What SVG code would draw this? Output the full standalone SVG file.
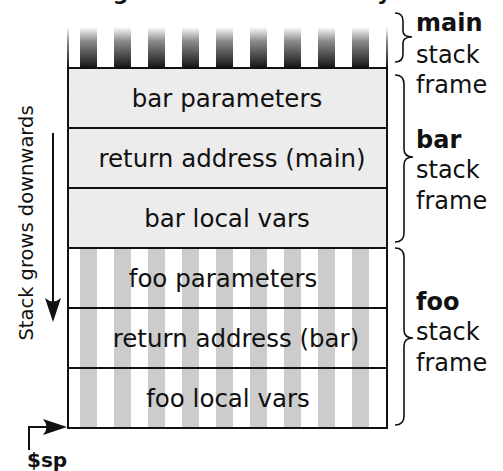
<svg xmlns="http://www.w3.org/2000/svg" width="503" height="471" viewBox="0 0 503 471">
<style>
.cell{font-family:"DejaVu Sans",sans-serif;font-size:24.5px;fill:#111;text-anchor:middle}
.lbl{font-family:"DejaVu Sans",sans-serif;font-size:24px;fill:#111}
.b{font-weight:bold}
.row{stroke:#111;stroke-width:2;fill:none}
.brace{fill:none;stroke:#111;stroke-width:1.6}
.ln{fill:none;stroke:#111;stroke-width:2}
</style>
<defs>
<linearGradient id="fade" x1="0" y1="27" x2="0" y2="68" gradientUnits="userSpaceOnUse">
<stop offset="0" stop-color="#ffffff"/>
<stop offset="0.35" stop-color="#8a8a8a"/>
<stop offset="1" stop-color="#141414"/>
</linearGradient>
<pattern id="vstripe" x="80" y="0" width="34" height="10" patternUnits="userSpaceOnUse">
<rect x="0" y="0" width="17" height="10" fill="#cccccc"/>
</pattern>
<pattern id="mstripe" x="80" y="0" width="34" height="471" patternUnits="userSpaceOnUse">
<rect x="0" y="0" width="17" height="471" fill="url(#fade)"/>
</pattern>
<filter id="noise" x="0" y="0" width="100%" height="100%">
<feTurbulence type="fractalNoise" baseFrequency="0.9 0.6" numOctaves="2" seed="3" result="t"/>
<feColorMatrix type="matrix" values="0 0 0 0 0.82  0 0 0 0 0.82  0 0 0 0 0.82  0 0 0 -1.4 1.1" result="n"/>
<feComposite in="n" in2="SourceGraphic" operator="in"/>
</filter>
<marker id="dart" viewBox="0 0 24 16" refX="24" refY="8" markerWidth="24" markerHeight="16" markerUnits="userSpaceOnUse" orient="auto">
<path d="M24,8 L0,0 Q7,8 0,16 Z" fill="#111"/>
</marker>
</defs>
<rect width="503" height="471" fill="#fff"/>
<text x="44" y="0" font-family="DejaVu Sans,sans-serif" font-size="21.8" font-weight="bold" fill="#111">Calling convention Stack layout</text>
<g id="main-frame">
<rect x="80" y="27" width="290" height="41" fill="url(#mstripe)"/>
<rect x="67" y="27" width="2" height="41" fill="url(#fade)"/>
<rect x="386" y="27" width="2" height="41" fill="url(#fade)"/>
</g>
<g id="bar-frame">
<rect x="68" y="68" width="319" height="180" fill="#ededed"/>
<rect x="68" y="68" width="319" height="180" fill="#ededed" filter="url(#noise)" opacity="0.7"/>
</g>
<g id="foo-frame">
<rect x="68" y="248" width="319" height="180" fill="#fff"/>
<rect x="80" y="248" width="290" height="180" fill="url(#vstripe)"/>
</g>
<g id="bar-parameters"><rect class="row" x="68" y="68" width="319" height="60"/><text class="cell" x="227" y="107">bar parameters</text></g>
<g id="return-address-main"><rect class="row" x="68" y="128" width="319" height="60"/><text class="cell" x="232" y="167">return address (main)</text></g>
<g id="bar-local-vars"><rect class="row" x="68" y="188" width="319" height="60"/><text class="cell" x="227" y="227">bar local vars</text></g>
<g id="foo-parameters"><rect class="row" x="68" y="248" width="319" height="60"/><text class="cell" x="223" y="287">foo parameters</text></g>
<g id="return-address-bar"><rect class="row" x="68" y="308" width="319" height="60"/><text class="cell" x="236" y="347">return address (bar)</text></g>
<g id="foo-local-vars"><rect class="row" x="68" y="368" width="319" height="60"/><text class="cell" x="228" y="407">foo local vars</text></g>
<g id="main-label">
<path class="brace" d="M395,13 Q403,13 403,21 L403,31 Q403,37 412,37 Q403,37 403,43 L403,54 Q403,62 395,62"/>
<text class="lbl b" x="416" y="31">main</text>
<text class="lbl" x="416" y="63">stack</text>
</g>
<g id="bar-label">
<path class="brace" d="M395,75 Q404,75 404,84 L404,149 Q404,157 413,157 Q404,157 404,165 L404,233 Q404,242 395,242"/>
<text class="lbl" x="416" y="93">frame</text>
<text class="lbl b" x="416" y="148">bar</text>
<text class="lbl" x="416" y="178">stack</text>
<text class="lbl" x="416" y="209">frame</text>
</g>
<g id="foo-label">
<path class="brace" d="M395,248 Q404,248 404,257 L404,330 Q404,338 413,338 Q404,338 404,346 L404,416 Q404,425 395,425"/>
<text class="lbl b" x="416" y="310">foo</text>
<text class="lbl" x="416" y="340">stack</text>
<text class="lbl" x="416" y="371">frame</text>
</g>
<g id="growth-label">
<text font-family="DejaVu Sans,sans-serif" font-size="19.5" fill="#111" text-anchor="middle" transform="translate(33,223) rotate(-90)">Stack grows downwards</text>
</g>
<g id="sp-label">
<text font-family="DejaVu Sans,sans-serif" font-size="20" font-weight="bold" fill="#111" x="27" y="467">$sp</text>
</g>
<g id="connectors">
<path class="ln" d="M53,133 L53,312"/>
<path d="M53,312 L53,322" fill="none" stroke="none" marker-end="url(#dart)"/>
<path class="ln" d="M29,450 L29,427 L58,427"/>
<path d="M58,427 L67,427" stroke="none" fill="none" marker-end="url(#dart)"/>
</g>
</svg>
